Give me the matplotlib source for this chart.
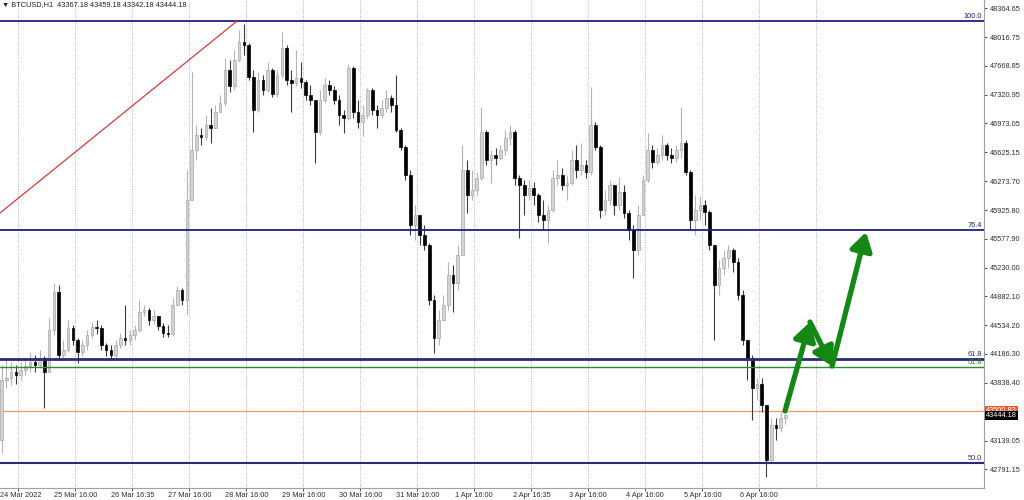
import numpy as np
import matplotlib
matplotlib.use('Agg')
import matplotlib.pyplot as plt
import matplotlib.transforms as mtransforms

plt.rcParams['font.family'] = ['Liberation Sans', 'DejaVu Sans']

# 2-hour candles, hours counted from 24 Mar 16:00
first_open = 43145
closes = [43871, 43895, 43968, 43931, 43992, 44040, 44088, 44052, 44137, 43968,
          44475, 44935, 44173, 44234, 44500, 44354, 44209, 44294, 44415, 44512,
          44500, 44294, 44234, 44173, 44294, 44379, 44354, 44415, 44475, 44693,
          44717, 44596, 44645, 44524, 44439, 44427, 44778, 44959, 44838, 46047,
          46652, 46833, 46809, 46954, 46918, 47111, 47220, 47619, 47425, 47740,
          47957, 47921, 47534, 47135, 47498, 47377, 47619, 47329, 47558, 47885,
          47498, 47462, 47522, 47474, 47316, 47256, 46869, 47256, 47437, 47377,
          47256, 47075, 47038, 47643, 47111, 46990, 47075, 47377, 47135, 47075,
          47159, 47280, 47196, 46893, 46688, 46349, 45745, 45866, 45624, 45503,
          44838, 44379, 44596, 44778, 45140, 45044, 45382, 46410, 46107, 46168,
          46313, 46869, 46531, 46591, 46555, 46652, 46797, 46869, 46313, 46228,
          46107, 46192, 46107, 45866, 45805, 45926, 46313, 46349, 46228, 46252,
          46531, 46410, 46470, 46386, 46954, 46688, 45926, 46047, 46228, 45987,
          46144, 45890, 45684, 45442, 45866, 46289, 46652, 46506, 46591, 46712,
          46591, 46555, 46652, 46736, 46386, 45805, 45926, 45987, 45902, 45503,
          45019, 45225, 45346, 45442, 45297, 44898, 44354, 44137, 43774, 43822,
          43568, 42904, 43327, 43290, 43411, 43444.18]
highs = [44052, 44113, 44088, 44052, 44088, 44137, 44209, 44173, 44234, 44161,
         44620, 45044, 45019, 44354, 44596, 44536, 44379, 44354, 44475, 44572,
         44596, 44536, 44318, 44294, 44354, 44439, 44778, 44475, 44536, 44838,
         44778, 44741, 44717, 44645, 44560, 44536, 44862, 45007, 44983, 46410,
         47595, 46954, 46918, 47075, 47159, 47196, 47316, 47764, 47740, 47861,
         48102, 48175, 47945, 47619, 47595, 47558, 47715, 47643, 47619, 48078,
         47921, 47619, 47861, 47715, 47498, 47437, 47256, 47377, 47522, 47498,
         47425, 47316, 47135, 47691, 47667, 47256, 47196, 47401, 47401, 47196,
         47256, 47377, 47316, 47558, 46918, 46712, 46410, 45987, 45866, 45745,
         45527, 44898, 44717, 44898, 45297, 45261, 45503, 46712, 46531, 46410,
         46385, 47171, 46893, 46652, 46676, 46712, 46893, 46954, 46893, 46349,
         46289, 46289, 46265, 46132, 46047, 45987, 46410, 46531, 46434, 46349,
         46652, 46712, 46736, 46531, 47413, 46990, 46712, 46168, 46289, 46228,
         46325, 46228, 45926, 45745, 45987, 46349, 46857, 46712, 46676, 46833,
         46736, 46676, 46712, 47171, 46772, 46410, 46107, 46095, 46047, 45926,
         45503, 45322, 45442, 45503, 45467, 45346, 44959, 44354, 44173, 43895,
         43895, 43568, 43411, 43411, 43484, 43459.18]
lows = [42988, 43774, 43810, 43822, 43871, 43931, 43968, 43968, 44016, 43532,
        43968, 44415, 44113, 44113, 44209, 44294, 44076, 44161, 44234, 44379,
        44427, 44234, 44161, 44113, 44137, 44258, 44294, 44294, 44354, 44451,
        44645, 44536, 44548, 44475, 44391, 44391, 44403, 44766, 44778, 44657,
        46047, 46531, 46712, 46772, 46736, 46918, 47111, 47183, 47353, 47377,
        47715, 47800, 47498, 46869, 47111, 47316, 47353, 47292, 47292, 47522,
        47437, 47111, 47425, 47401, 47256, 47196, 46494, 46833, 47220, 47316,
        47208, 46954, 46857, 47014, 47038, 46918, 46821, 47038, 47075, 46918,
        47038, 47111, 47111, 46869, 46652, 46289, 45624, 45563, 45503, 45442,
        44778, 44197, 44294, 44596, 44717, 44693, 44959, 45382, 45890, 46047,
        46107, 46289, 46470, 46252, 46470, 46531, 46591, 46712, 46228, 45588,
        45866, 46047, 45987, 45781, 45684, 45527, 45902, 46228, 46168, 46047,
        46228, 46313, 46349, 46313, 46349, 46652, 45829, 45866, 45987, 45866,
        45926, 45829, 45563, 45104, 45382, 45866, 46265, 46434, 46470, 46531,
        46531, 46494, 46506, 46555, 46349, 45684, 45624, 45805, 45745, 45442,
        44354, 44898, 45140, 45225, 45177, 44838, 44294, 43871, 43387, 43629,
        43484, 42698, 42879, 43145, 43242, 43342.18]
start_hour = -7
bar_hours = 2

day_labels = ['24 Mar 2022', '25 Mar 16:00', '26 Mar 16:35', '27 Mar 16:00', '28 Mar 16:00',
              '29 Mar 16:00', '30 Mar 16:00', '31 Mar 16:00', '1 Apr 16:00', '2 Apr 16:35',
              '3 Apr 16:00', '4 Apr 16:00', '5 Apr 16:00', '6 Apr 16:00']
grid_count = 15

price_ticks = [48364.65, 48016.75, 47668.85, 47320.95, 46973.05, 46625.15, 46273.70, 45925.80,
               45577.90, 45230.00, 44882.10, 44534.20, 44186.30, 43838.40, 43139.05, 42791.15]

fib_names = ['100.0', '76.4', '61.8', '61.8', '50.0']
fib_prices = [48211, 45684, 44121, 44024, 42863]
fib_colors = ['#1e1e82', '#1e1e82', '#2a2a7a', '#2e8b2e', '#2a2a7a']
fib_widths = [1.3, 1.3, 2.0, 1.0, 1.5]

ask_price = 43500.83
bid_price = 43444.18
header = '\u25bc BTCUSD,H1  43367.18 43459.18 43342.18 43444.18'

trend_line = [(-7.7, 45890), (92.1, 48211)]
arrow_path = [(322.8, 43496), (333.3, 44572), (342.6, 44040), (356.9, 45660)]

fs = 5.3

fig = plt.figure(figsize=(10.24, 5), dpi=100)
ax = fig.add_axes([0, 0.024, 0.961, 0.976])
ax.set_xlim(-7.7, 406.6)
ax.set_ylim(42565, 48465)

# grid
for k in range(grid_count):
    ax.axvline(k * 24, color='#b4b4b4', lw=0.7, ls=(0, (1, 1.5)), zorder=0)

# candles
opens = [first_open] + closes[:-1]
xs = start_hour + bar_hours * np.arange(len(closes))
for x, o, h, l, c in zip(xs, opens, highs, lows, closes):
    if c >= o:
        wick, face, edge = '#b4b4b4', '#d4d4d4', '#a8a8a8'
    else:
        wick, face, edge = '#3c3c3c', '#000000', '#000000'
    ax.vlines(x, l, h, color=wick, lw=0.8, zorder=2)
    ax.bar(x, max(abs(c - o), 12), bottom=min(o, c), width=1.1,
           color=face, edgecolor=edge, lw=0.5, zorder=3)

# fibonacci levels
trans = mtransforms.blended_transform_factory(ax.transAxes, ax.transData)
for name, p, col, w in zip(fib_names, fib_prices, fib_colors, fib_widths):
    ax.axhline(p, color=col, lw=w, zorder=4)
    ax.text(0.998, p + 15, name, transform=trans, ha='right', va='bottom',
            fontsize=fs, color=col, zorder=5)

ax.axhline(ask_price, color='#f09868', lw=0.9, zorder=1)

# trend line
ax.plot([trend_line[0][0], trend_line[1][0]], [trend_line[0][1], trend_line[1][1]],
        color='#dd3a3a', lw=0.9, zorder=4)

# green arrows
for (x0, y0), (x1, y1) in zip(arrow_path[:-1], arrow_path[1:]):
    ax.annotate('', xy=(x1, y1), xytext=(x0, y0),
                arrowprops=dict(arrowstyle='-|>,head_length=0.9,head_width=0.55',
                                lw=3.8, color='#158715', shrinkA=0, shrinkB=0,
                                mutation_scale=12), zorder=6)

# axes
for s in ['left', 'top']:
    ax.spines[s].set_visible(False)
for s in ['right', 'bottom']:
    ax.spines[s].set_color('#a0a0a0')
    ax.spines[s].set_linewidth(0.8)

ax.yaxis.tick_right()
ax.set_yticks(price_ticks)
ax.set_yticklabels(['%.2f' % p for p in price_ticks])
ax.set_xticks([k * 24 for k in range(len(day_labels))])
ax.set_xticklabels([''] + day_labels[1:])
ax.tick_params(axis='both', labelsize=fs, colors='#303030', length=2, width=0.6, pad=1)
ax.tick_params(axis='y', pad=2)
# first date label sits against the left edge
ax.annotate(day_labels[0], xy=(0.0005, 0), xycoords='axes fraction', xytext=(0, -3),
            textcoords='offset points', ha='left', va='top', fontsize=fs, color='#303030')

ax.text(0.002, 0.997, header, transform=ax.transAxes, ha='left', va='top',
        fontsize=fs, color='#202020', family=['Liberation Sans', 'DejaVu Sans'])

# price tags
ax.text(1.002, ask_price, '%.2f' % ask_price, transform=trans, ha='left', va='center',
        fontsize=fs, color='white', clip_on=False,
        bbox=dict(boxstyle='square,pad=0.12', fc='#f0582a', ec='none'))
ax.text(1.002, bid_price, '%.2f' % bid_price, transform=trans, ha='left', va='center',
        fontsize=fs, color='white', clip_on=False,
        bbox=dict(boxstyle='square,pad=0.12', fc='#000000', ec='none'))

fig.savefig('out.png', dpi=100)
